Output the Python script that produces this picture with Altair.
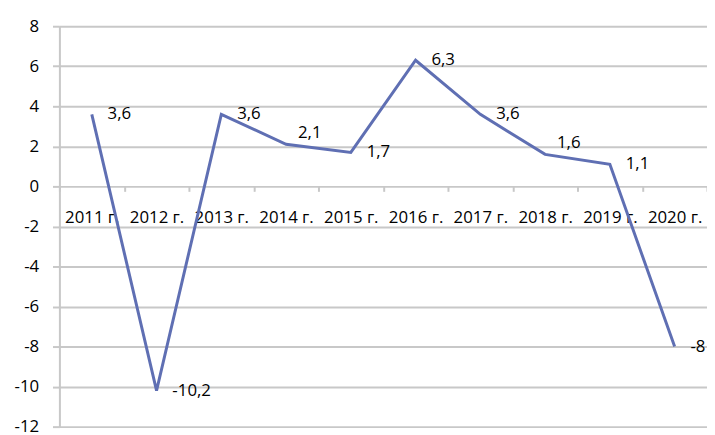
import altair as alt
import pandas as pd

years = ["2011 г.", "2012 г.", "2013 г.", "2014 г.", "2015 г.",
         "2016 г.", "2017 г.", "2018 г.", "2019 г.", "2020 г."]
values = [3.6, -10.2, 3.6, 2.1, 1.7, 6.3, 3.6, 1.6, 1.1, -8.0]
raised_labels = ["2014 г.", "2018 г."]

df = pd.DataFrame({"year": years, "value": values})

FONT = "Open Sans"
GRID = "#c8c8c8"
LINE = "#5f6fb3"
H = 405

x = alt.X(
    "year:N",
    sort=years,
    scale=alt.Scale(paddingInner=0, paddingOuter=0),
    axis=alt.Axis(
        title=None,
        orient="bottom",
        offset=-round(H * 12 / 20),
        domain=False,
        ticks=True,
        tickBand="extent",
        tickSize=5,
        tickColor=GRID,
        tickWidth=2,
        labelPadding=19,
        labelBaseline="top",
        labelFont=FONT,
        labelFontSize=17,
        labelColor="#000000",
        labelOverlap=False,
        labelFlush=False,
        labelAngle=0,
    ),
)
y = alt.Y(
    "value:Q",
    scale=alt.Scale(domain=[-12, 8], nice=False, zero=False),
    axis=alt.Axis(
        title=None,
        values=list(range(-12, 9, 2)),
        grid=True,
        gridColor=GRID,
        gridWidth=2,
        domain=True,
        domainColor=GRID,
        domainWidth=2,
        ticks=True,
        tickSize=7,
        tickColor=GRID,
        tickWidth=2,
        labelPadding=14,
        labelFont=FONT,
        labelFontSize=17,
        labelColor="#000000",
        labelOverlap=False,
        labelFlush=False,
        labelExpr="'' + datum.value",
    ),
)

line = alt.Chart(df).mark_line(color=LINE, strokeWidth=3).encode(x=x, y=y)

label_text = "replace('' + datum.value, '.', ',')"

labels = (
    alt.Chart(df)
    .transform_filter(alt.FieldOneOfPredicate(field="year", oneOf=[v for v in years if v not in raised_labels]))
    .transform_calculate(lbl=label_text)
    .mark_text(align="left", baseline="middle", dx=16, dy=0, font=FONT, fontSize=17, color="#000000")
    .encode(x=alt.X("year:N", sort=years), y="value:Q", text="lbl:N")
)
labels_up = (
    alt.Chart(df)
    .transform_filter(alt.FieldOneOfPredicate(field="year", oneOf=raised_labels))
    .transform_calculate(lbl=label_text)
    .mark_text(align="left", baseline="middle", dx=12, dy=-11, font=FONT, fontSize=17, color="#000000")
    .encode(x=alt.X("year:N", sort=years), y="value:Q", text="lbl:N")
)

chart = (
    alt.layer(line, labels, labels_up)
    .properties(
        width=655,
        height=H,
        padding={"left": 52, "top": 16, "right": 0, "bottom": 4},
        autosize=alt.AutoSizeParams(type="none"),
        background="#ffffff",
    )
    .configure_view(stroke=None)
)

chart.save("out.html", embed_options={"renderer": "svg", "actions": False})
